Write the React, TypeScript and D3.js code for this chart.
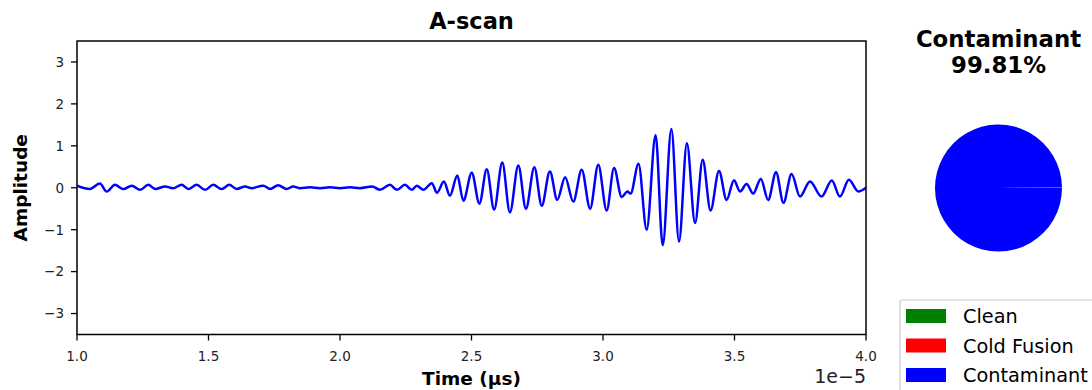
import React from 'react';
import * as d3 from 'd3';

// A-scan samples: [time (x1e-5 s), amplitude]
const ascanSamples: [number, number][] = [
  [1.000, 0.05], [1.049, -0.03], [1.087, 0.10], [1.113, -0.09], [1.144, 0.07],
  [1.176, -0.03], [1.208, 0.05], [1.240, -0.05], [1.271, 0.07], [1.297, -0.03],
  [1.335, 0.03], [1.365, -0.01], [1.398, 0.07], [1.423, -0.03], [1.455, 0.07],
  [1.487, -0.05], [1.518, 0.07], [1.550, -0.03], [1.579, 0.07], [1.607, -0.03],
  [1.639, 0.03], [1.664, -0.01], [1.708, 0.05], [1.734, -0.03], [1.765, 0.06],
  [1.797, -0.03], [1.822, 0.03], [1.848, -0.01], [1.886, 0.01], [1.924, -0.01],
  [1.962, 0.01], [2.000, -0.01], [2.038, 0.01], [2.076, -0.01], [2.122, 0.03],
  [2.152, -0.05], [2.190, 0.07], [2.216, -0.05], [2.247, 0.07], [2.273, -0.05],
  [2.292, 0.05], [2.317, -0.05], [2.349, 0.11], [2.369, -0.12], [2.395, 0.15],
  [2.418, -0.19], [2.446, 0.29], [2.469, -0.31], [2.501, 0.36], [2.530, -0.38],
  [2.558, 0.44], [2.586, -0.52], [2.617, 0.60], [2.646, -0.59], [2.678, 0.53],
  [2.707, -0.50], [2.739, 0.49], [2.767, -0.43], [2.798, 0.39], [2.826, -0.29],
  [2.856, 0.25], [2.887, -0.33], [2.919, 0.43], [2.951, -0.50], [2.982, 0.55],
  [3.014, -0.54], [3.042, 0.47], [3.071, -0.22], [3.093, -0.09], [3.105, -0.14],
  [3.135, 0.57], [3.166, -1.00], [3.200, 1.25], [3.227, -1.37], [3.260, 1.40],
  [3.289, -1.28], [3.319, 1.06], [3.350, -0.84], [3.379, 0.67], [3.409, -0.54],
  [3.441, 0.40], [3.470, -0.29], [3.498, 0.18], [3.521, -0.09], [3.546, 0.09],
  [3.571, -0.14], [3.600, 0.21], [3.628, -0.29], [3.658, 0.37], [3.686, -0.36],
  [3.717, 0.33], [3.749, -0.21], [3.787, 0.15], [3.831, -0.21], [3.870, 0.17],
  [3.901, -0.21], [3.935, 0.19], [3.971, -0.09], [4.000, 0.00],
];

const timeTicks = [1.0, 1.5, 2.0, 2.5, 3.0, 3.5, 4.0];
const ampTicks = [-3, -2, -1, 0, 1, 2, 3];

const classNames = ['Clean', 'Cold Fusion', 'Contaminant'];
const classShares = [0.06, 0.13, 99.81];
const classColors = ['#008000', '#ff0000', '#0000ff'];

const FONT = '"DejaVu Sans", Verdana, sans-serif';

export default function App() {
  const W = 1092;
  const H = 390;
  const plot = { left: 77, right: 866, top: 41, bottom: 334.5 };

  const x = d3.scaleLinear().domain([1.0, 4.0]).range([plot.left, plot.right]);
  const y = d3.scaleLinear().domain([-3.5, 3.5]).range([plot.bottom, plot.top]);

  const line = d3.line<[number, number]>()
    .x(d => x(d[0]))
    .y(d => y(d[1]))
    .curve(d3.curveMonotoneX);

  // matplotlib pie: starts at 3 o'clock, goes counterclockwise
  const pie = d3.pie<number>().sort(null)
    .startAngle(Math.PI / 2)
    .endAngle(Math.PI / 2 - 2 * Math.PI);
  const arc = d3.arc<d3.PieArcDatum<number>>().innerRadius(0).outerRadius(63.5);
  const slices = pie(classShares);
  const pieCx = 998.5;
  const pieCy = 188;

  const winner = classShares.indexOf(d3.max(classShares) as number);

  return (
    <svg width={W} height={H} style={{ position: 'absolute', left: 0, top: 0, background: '#fff' }}
      fontFamily={FONT}>
      <defs>
        <clipPath id="plotClip">
          <rect x={plot.left} y={plot.top} width={plot.right - plot.left} height={plot.bottom - plot.top} />
        </clipPath>
      </defs>

      {/* A-scan trace */}
      <path d={line(ascanSamples) || ''} fill="none" stroke="#0000ff" strokeWidth={2.5}
        strokeLinejoin="round" strokeLinecap="round" clipPath="url(#plotClip)" />

      {/* frame */}
      <rect x={plot.left} y={plot.top} width={plot.right - plot.left} height={plot.bottom - plot.top}
        fill="none" stroke="#000" strokeWidth={1.5} />

      {/* x ticks */}
      {timeTicks.map(t => (
        <g key={'xt' + t} transform={`translate(${x(t)},0)`}>
          <line y1={plot.bottom} y2={plot.bottom + 6} stroke="#000" strokeWidth={1.3} />
          <text y={360.5} textAnchor="middle" fontSize={13.5} fill="#222">{t.toFixed(1)}</text>
        </g>
      ))}
      <text x={plot.right} y={383} textAnchor="end" fontSize={19} fill="#222">1e−5</text>

      {/* y ticks */}
      {ampTicks.map(v => (
        <g key={'yt' + v} transform={`translate(0,${y(v)})`}>
          <line x1={plot.left - 6} x2={plot.left} stroke="#000" strokeWidth={1.3} />
          <text x={64} dy="0.36em" textAnchor="end" fontSize={13.5} fill="#222">
            {v < 0 ? '−' + Math.abs(v) : String(v)}
          </text>
        </g>
      ))}

      {/* labels */}
      <text x={(plot.left + plot.right) / 2} y={29.3} textAnchor="middle" fontSize={22.5}
        fontWeight="bold">A-scan</text>
      <text x={(plot.left + plot.right) / 2} y={385} textAnchor="middle" fontSize={18.5}
        fontWeight="bold">Time (µs)</text>
      <text transform={`translate(27,${(plot.top + plot.bottom) / 2}) rotate(-90)`} textAnchor="middle"
        fontSize={18.5} fontWeight="bold">Amplitude</text>

      {/* classification pie */}
      <text x={pieCx} y={47} textAnchor="middle" fontSize={22.8} fontWeight="bold">{classNames[winner]}</text>
      <text x={pieCx} y={72.5} textAnchor="middle" fontSize={22.8} fontWeight="bold">
        {classShares[winner].toFixed(2)}%
      </text>
      <g transform={`translate(${pieCx},${pieCy})`}>
        {slices.map((s, i) => (
          <path key={'sl' + i} d={arc(s) || ''} fill={classColors[i]} />
        ))}
      </g>

      {/* legend */}
      <rect x={900} y={300} width={220} height={120} rx={3} fill="#fff" fillOpacity={0.8}
        stroke="#cccccc" strokeWidth={1.2} />
      {classNames.map((name, i) => (
        <g key={'lg' + name} transform={`translate(0,${323 + i * 29.5})`}>
          <rect x={906} y={-14} width={40} height={14} fill={classColors[i]} />
          <text x={963} y={0} fontSize={19.3} fill="#000">{name}</text>
        </g>
      ))}
    </svg>
  );
}
